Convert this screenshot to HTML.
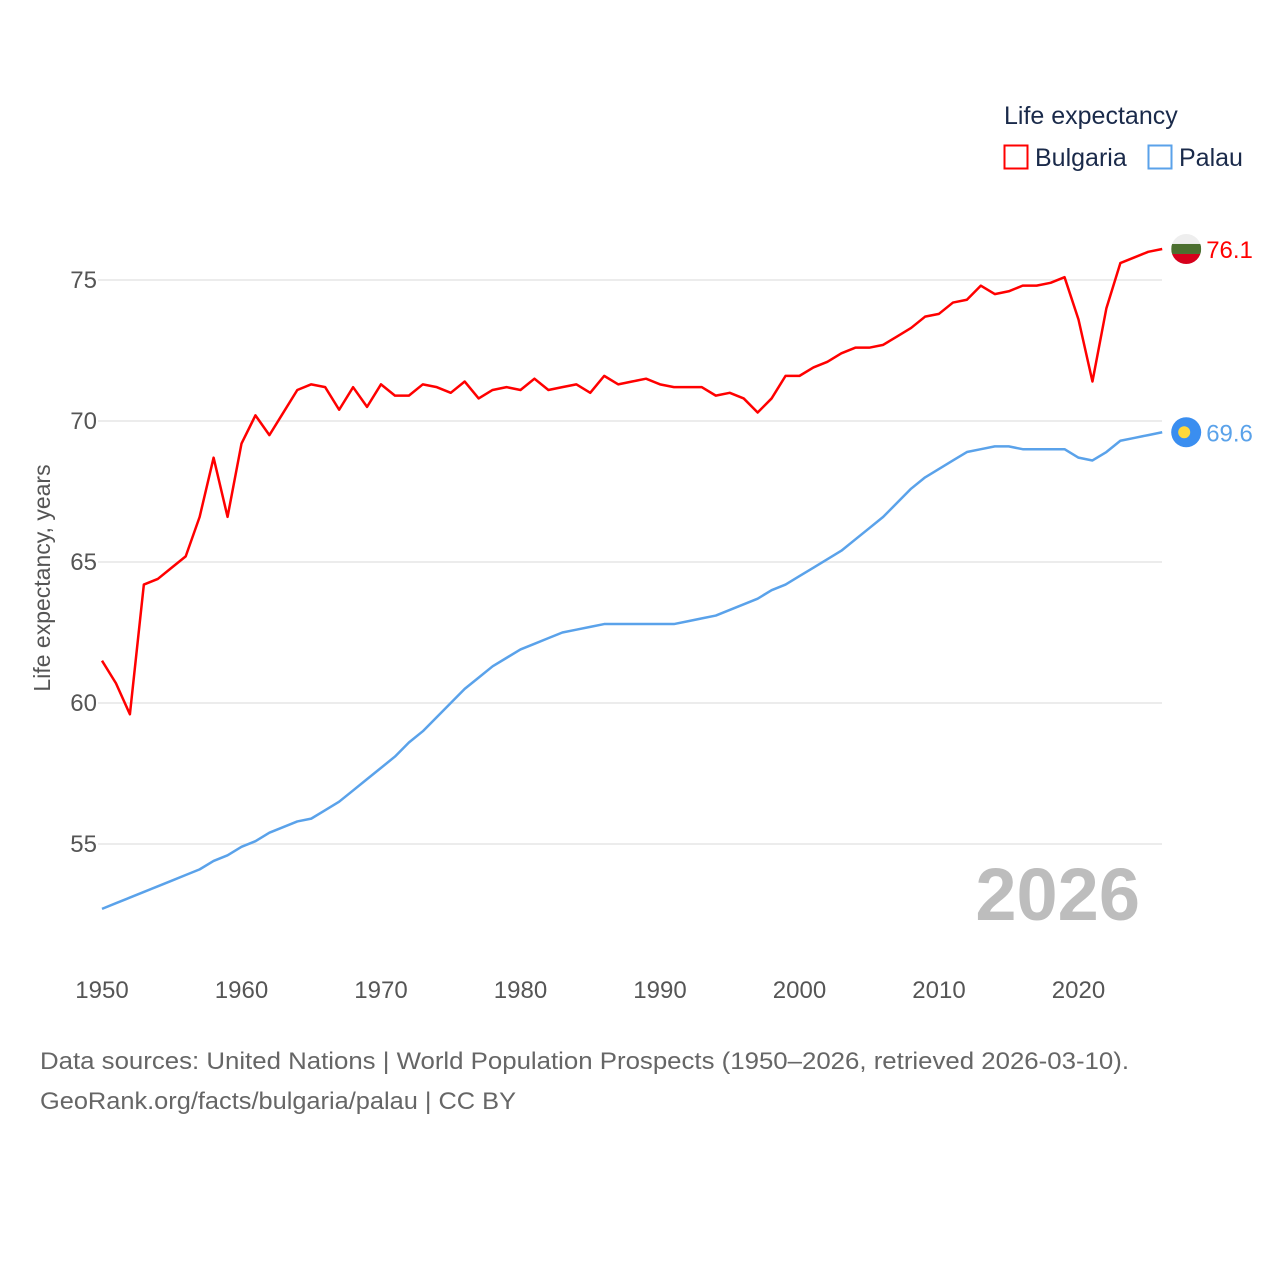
<!DOCTYPE html>
<html><head><meta charset="utf-8"><style>
body{margin:0;background:#fff;}
svg{display:block;font-family:"Liberation Sans",sans-serif;}
</style></head><body>
<svg id="chart" width="1280" height="1280">
<text x="1004" y="124" font-size="25" fill="#1a2a4a">Life expectancy</text>
<g>
<rect x="1004.5" y="145.5" width="23" height="23" fill="none" stroke="#ff0000" stroke-width="2"/>
<text x="1035" y="166" font-size="25" fill="#1a2a4a">Bulgaria</text></g>
<g>
<rect x="1148.5" y="145.5" width="23" height="23" fill="none" stroke="#5aa2ea" stroke-width="2"/>
<text x="1179" y="166" font-size="25" fill="#1a2a4a">Palau</text></g>
<g id="grid"></g><g id="yticks"></g><g id="xticks"></g>
<text transform="translate(50,578) rotate(-90)" text-anchor="middle" font-size="23" fill="#555">Life expectancy, years</text>
<text x="1140" y="920" text-anchor="end" font-size="74" font-weight="bold" fill="#bdbdbd">2026</text>
<g id="lines"></g>
<text x="40" y="1069" font-size="24" fill="#666" textLength="1089" lengthAdjust="spacingAndGlyphs">Data sources: United Nations | World Population Prospects (1950–2026, retrieved 2026-03-10).</text>
<text x="40" y="1109" font-size="24" fill="#666" textLength="476" lengthAdjust="spacingAndGlyphs">GeoRank.org/facts/bulgaria/palau | CC BY</text>
</svg>
<script>
const years=[];for(let y=1950;y<=2026;y++)years.push(y);
const bulgaria=[61.5,60.7,59.6,64.2,64.4,64.8,65.2,66.6,68.7,66.6,69.2,70.2,69.5,70.3,71.1,71.3,71.2,70.4,71.2,70.5,71.3,70.9,70.9,71.3,71.2,71.0,71.4,70.8,71.1,71.2,71.1,71.5,71.1,71.2,71.3,71.0,71.6,71.3,71.4,71.5,71.3,71.2,71.2,71.2,70.9,71.0,70.8,70.3,70.8,71.6,71.6,71.9,72.1,72.4,72.6,72.6,72.7,73.0,73.3,73.7,73.8,74.2,74.3,74.8,74.5,74.6,74.8,74.8,74.9,75.1,73.6,71.4,74.0,75.6,75.8,76.0,76.1];
const palau=[52.7,52.9,53.1,53.3,53.5,53.7,53.9,54.1,54.4,54.6,54.9,55.1,55.4,55.6,55.8,55.9,56.2,56.5,56.9,57.3,57.7,58.1,58.6,59.0,59.5,60.0,60.5,60.9,61.3,61.6,61.9,62.1,62.3,62.5,62.6,62.7,62.8,62.8,62.8,62.8,62.8,62.8,62.9,63.0,63.1,63.3,63.5,63.7,64.0,64.2,64.5,64.8,65.1,65.4,65.8,66.2,66.6,67.1,67.6,68.0,68.3,68.6,68.9,69.0,69.1,69.1,69.0,69.0,69.0,69.0,68.7,68.6,68.9,69.3,69.4,69.5,69.6];
const yTicks=[55,60,65,70,75];
const xTicks=[1950,1960,1970,1980,1990,2000,2010,2020];
const NS="http://www.w3.org/2000/svg";
const X=yr=>102+(yr-1950)*13.95;
const Y=v=>280+(75-v)*28.2;
function mk(tag,attrs,parent,text){const e=document.createElementNS(NS,tag);for(const k in attrs)e.setAttribute(k,attrs[k]);if(text!=null)e.textContent=text;parent.appendChild(e);return e;}
const grid=document.getElementById('grid'),yt=document.getElementById('yticks'),xt=document.getElementById('xticks'),lines=document.getElementById('lines');
yTicks.forEach(v=>{
 const l=mk('line',{x1:98,x2:1162,y1:Y(v),y2:Y(v),stroke:'#e6e6e6','stroke-width':1.5},grid);
 
 
 const t=mk('text',{x:97,y:Y(v)+8,'text-anchor':'end','font-size':24,fill:'#555'},yt,String(v));
 
 
});
xTicks.forEach(v=>{
 const t=mk('text',{x:X(v),y:998,'text-anchor':'middle','font-size':24,fill:'#555'},xt,String(v));
 
 
});
function line(data,color,name){
 const p=mk('polyline',{points:data.map((v,i)=>X(years[i])+','+Y(v)).join(' '),fill:'none',stroke:color,'stroke-width':2.5,'stroke-linejoin':'round'},lines);
 
 
}
line(palau,'#5aa2ea','palau-line');
line(bulgaria,'#ff0000','bulgaria-line');
const lx=X(2026)+24;
const by=Y(bulgaria[bulgaria.length-1]);
const bg=mk('g',{},lines);


mk('clipPath',{id:'bc'},bg);document.getElementById('bc').appendChild(document.createElementNS(NS,'circle'));
const cc=document.querySelector('#bc circle');cc.setAttribute('cx',lx);cc.setAttribute('cy',by);cc.setAttribute('r',15);
const fg=mk('g',{'clip-path':'url(#bc)'},bg);
mk('rect',{x:lx-15,y:by-15,width:30,height:10,fill:'#eeeeee'},fg);
mk('rect',{x:lx-15,y:by-5,width:30,height:10,fill:'#4b6f2f'},fg);
mk('rect',{x:lx-15,y:by+5,width:30,height:10,fill:'#d6001c'},fg);
const bl=mk('text',{x:lx+20,y:by+9,'font-size':24,fill:'#ff0000'},lines,bulgaria[bulgaria.length-1].toFixed(1));


const py=Y(palau[palau.length-1]);
const pg=mk('g',{},lines);


mk('circle',{cx:lx,cy:py,r:15,fill:'#3a8ef0'},pg);
mk('circle',{cx:lx-2,cy:py,r:6,fill:'#ffd83a'},pg);
const pl=mk('text',{x:lx+20,y:py+9,'font-size':24,fill:'#5aa2ea'},lines,palau[palau.length-1].toFixed(1));


</script>
</body></html>
